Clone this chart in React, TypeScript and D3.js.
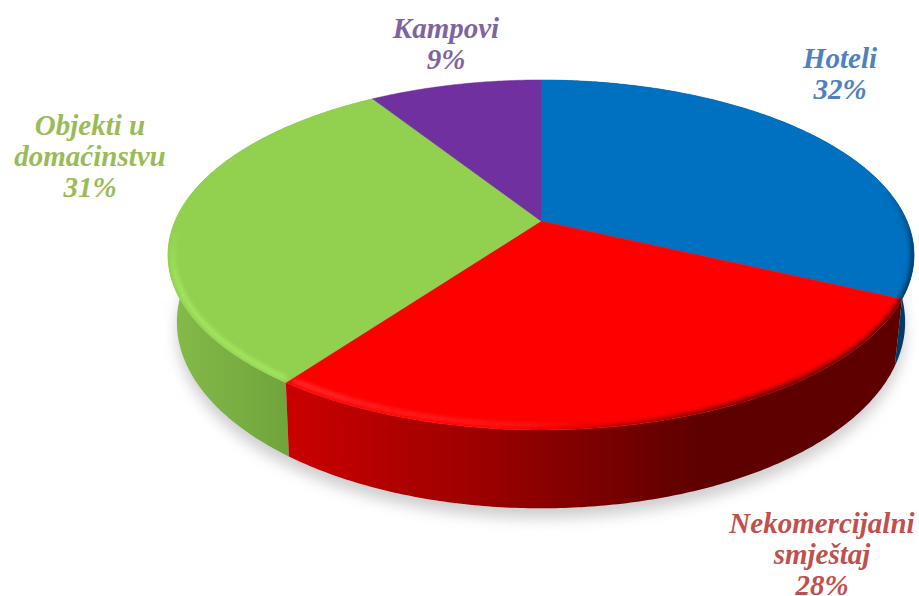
import React from 'react';
import * as d3 from 'd3';

const WIDTH = 919;
const HEIGHT = 596;

const categories = ['Hoteli', 'Nekomercijalni smještaj', 'Objekti u domaćinstvu', 'Kampovi'];
const values = [32, 28, 31, 9];
const labelLines = [['Hoteli', '32%'], ['Nekomercijalni', 'smještaj', '28%'], ['Objekti u', 'domaćinstvu', '31%'], ['Kampovi', '9%']];
const topColors = ['#0070c0', '#ff0000', '#92d050', '#7030a0'];
const labelColors = ['#4f81bd', '#c0504d', '#9bbb59', '#8064a2'];
const labelPos = [[840, 68], [822, 533], [90, 135], [446, 38]];

// perspective params for the top face and the bottom rim
const CX = 541;
const topFace = { y0: 221, rx: 366, ry: 168.4, k: 0.194 };
const bottomFace = { y0: 283, rx: 356, ry: 178, k: 0.21 };

const project = (f: typeof topFace, a: number, r = 1): [number, number] => {
  const u = r * Math.sin(a);
  const v = r * Math.cos(a);
  const w = 1 + f.k * v;
  return [CX + (f.rx * u) / w, f.y0 - (f.ry * v) / w];
};

const sample = (a0: number, a1: number) => {
  const n = Math.max(2, Math.ceil(Math.abs(a1 - a0) / 0.01));
  return d3.range(n + 1).map((i) => a0 + ((a1 - a0) * i) / n);
};

const line = d3.line<[number, number]>();

const pie = d3.pie<number>().sort(null).value((d) => d);
const slices = pie(values);

const topPath = (a0: number, a1: number) =>
  line([[CX, topFace.y0], ...sample(a0, a1).map((a) => project(topFace, a))])! + 'Z';

const wallPath = (a0: number, a1: number) =>
  line([
    ...sample(a0, a1).map((a) => project(topFace, a)),
    ...sample(a1, a0).map((a) => project(bottomFace, a)),
  ])! + 'Z';

const rimPath = (a0: number, a1: number, r: number) =>
  line(sample(a0, a1).map((a) => project(topFace, a, r)))!;

const deg = (d: number) => (d * Math.PI) / 180;
const wholeTop = line(sample(0, Math.PI * 2).map((a) => project(topFace, a)))! + 'Z';
const wholeBottom = line(sample(0, Math.PI * 2).map((a) => project(bottomFace, a)))! + 'Z';

export default function App() {
  const [hotel, nekom, objekti] = slices;
  return (
    <svg
      width={WIDTH}
      height={HEIGHT}
      viewBox={`0 0 ${WIDTH} ${HEIGHT}`}
      style={{ position: 'fixed', left: 0, top: 0, background: '#fff', display: 'block' }}
    >
      <defs>
        <filter id="shadow" x="-10%" y="-10%" width="120%" height="125%">
          <feGaussianBlur stdDeviation="7" />
        </filter>
        <filter id="soft" filterUnits="userSpaceOnUse" x="0" y="0" width={WIDTH} height={HEIGHT}>
          <feGaussianBlur stdDeviation="2" />
        </filter>
        <linearGradient id="wall-red" gradientUnits="userSpaceOnUse" x1="283" x2="700" y1="0" y2="0">
          <stop offset="0" stopColor="#cc0000" />
          <stop offset="0.5" stopColor="#990000" />
          <stop offset="1" stopColor="#5e0000" />
        </linearGradient>
        <linearGradient id="wall-green" gradientUnits="userSpaceOnUse" x1="170" x2="290" y1="0" y2="0">
          <stop offset="0" stopColor="#84bb4a" />
          <stop offset="1" stopColor="#70a43c" />
        </linearGradient>
        <linearGradient id="rim-green" gradientUnits="userSpaceOnUse" x1="0" x2="0" y1="225" y2="285">
          <stop offset="0" stopColor="#a6ec62" stopOpacity="0" />
          <stop offset="1" stopColor="#a6ec62" stopOpacity="1" />
        </linearGradient>
        <linearGradient id="rim-red" gradientUnits="userSpaceOnUse" x1="283" x2="620" y1="0" y2="0">
          <stop offset="0" stopColor="#ff5050" stopOpacity="0.9" />
          <stop offset="0.7" stopColor="#ff3030" stopOpacity="0.7" />
          <stop offset="1" stopColor="#ff1010" stopOpacity="0" />
        </linearGradient>
        <linearGradient id="edge-red" gradientUnits="userSpaceOnUse" x1="480" x2="760" y1="0" y2="0">
          <stop offset="0" stopColor="#800000" stopOpacity="0" />
          <stop offset="1" stopColor="#600000" stopOpacity="1" />
        </linearGradient>
        <linearGradient id="edge-blue" gradientUnits="userSpaceOnUse" x1="0" x2="0" y1="185" y2="255">
          <stop offset="0" stopColor="#003b68" stopOpacity="0" />
          <stop offset="1" stopColor="#003b68" stopOpacity="1" />
        </linearGradient>
        <clipPath id="top-clip">
          <path d={wholeTop} />
        </clipPath>
      </defs>

      {/* ground shadow */}
      <path d={wholeBottom} fill="#cfcfcf" filter="url(#shadow)" transform="translate(0,10)" />

      {/* side walls, only the front ones show */}
      <path d={wallPath(hotel.startAngle, hotel.endAngle)} fill="#003b68" />
      <path d={wallPath(objekti.startAngle, objekti.endAngle)} fill="url(#wall-green)" />
      <path d={wallPath(nekom.startAngle, nekom.endAngle)} fill="url(#wall-red)" />

      {/* top face */}
      {slices.map((s, i) => (
        <path
          key={categories[i]}
          d={topPath(s.startAngle, s.endAngle)}
          fill={topColors[i]}
          stroke={topColors[i]}
          strokeWidth={0.5}
        />
      ))}

      {/* bevel along the rim */}
      <g clipPath="url(#top-clip)" fill="none">
        <path
          d={rimPath(objekti.startAngle + 0.012, deg(276), 0.987)}
          stroke="url(#rim-green)"
          strokeWidth={4}
          filter="url(#soft)"
        />
        <path
          d={rimPath(nekom.startAngle + deg(40), nekom.endAngle - 0.008, 0.982)}
          stroke="url(#rim-red)"
          strokeWidth={3}
          filter="url(#soft)"
        />
        <path
          d={rimPath(nekom.startAngle, nekom.endAngle - deg(25), 1)}
          stroke="url(#edge-red)"
          strokeWidth={6}
          filter="url(#soft)"
        />
        <path
          d={rimPath(deg(72), hotel.endAngle, 1)}
          stroke="url(#edge-blue)"
          strokeWidth={7}
          filter="url(#soft)"
        />
      </g>

      {/* labels */}
      <g
        fontFamily="'Liberation Serif', serif"
        fontWeight="bold"
        fontStyle="italic"
        fontSize={29}
        textAnchor="middle"
      >
        {labelLines.map((lines, i) => (
          <text key={categories[i]} fill={labelColors[i]} x={labelPos[i][0]} y={labelPos[i][1]}>
            {lines.map((t, j) => (
              <tspan key={j} x={labelPos[i][0]} dy={j === 0 ? 0 : 31}>
                {t}
              </tspan>
            ))}
          </text>
        ))}
      </g>
    </svg>
  );
}
